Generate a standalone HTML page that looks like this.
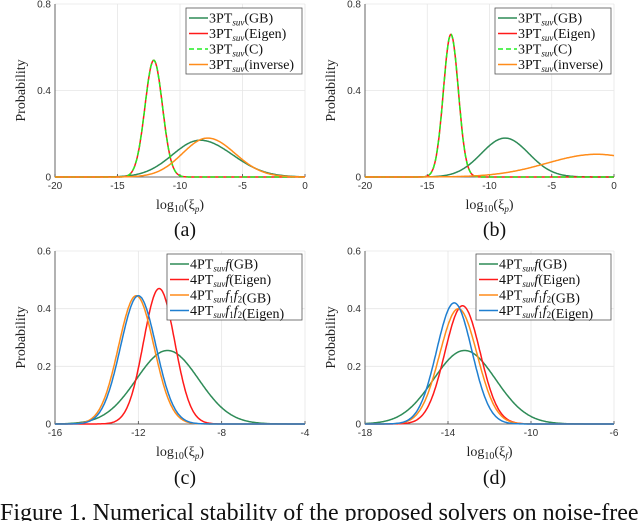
<!DOCTYPE html>
<html><head><meta charset="utf-8">
<style>
body{margin:0;background:#fff;width:640px;height:521px;overflow:hidden}
svg{display:block}
.tk{font-family:"Liberation Sans",sans-serif;font-size:10px;fill:#333}
.lb{font-family:"Liberation Serif",serif;font-size:14px;fill:#222}
.lg{font-family:"Liberation Serif",serif;font-size:14px;fill:#111}
.cap{font-family:"Liberation Serif",serif;font-size:20px;fill:#111}
.fcap{font-family:"Liberation Serif",serif;font-size:24px;fill:#111}
</style></head><body>
<svg id="fig" width="640" height="521"></svg>
<script>
// Panel data: curve params [mean, peak, sigmaLeft, sigmaRight]
const panelNames=["a","b","c","d"];
const seriesLabelsA=["GB","Eigen","C","inverse"];
const meansA=[-8.4,-12.1,-12.1,-7.8];
const peaksA=[0.17,0.54,0.54,0.18];
const sigLA=[2.2,0.7,0.7,2.0];
const sigRA=[2.6,0.7,0.7,2.2];
const meansB=[-8.75,-13.1,-13.1,-1.4];
const peaksB=[0.18,0.66,0.66,0.105];
const sigLB=[1.9,0.6,0.6,4.0];
const sigRB=[1.9,0.6,0.6,4.0];
const seriesLabelsC=["f(GB)","f(Eigen)","f1f2(GB)","f1f2(Eigen)"];
const meansC=[-10.6,-11.0,-12.1,-12.0];
const peaksC=[0.255,0.47,0.445,0.445];
const sigLC=[1.5,0.75,0.85,0.85];
const sigRC=[1.5,0.75,0.85,0.85];
const meansD=[-13.2,-13.3,-13.5,-13.7];
const peaksD=[0.255,0.41,0.40,0.42];
const sigLD=[1.5,0.85,0.9,0.85];
const sigRD=[1.5,0.85,0.9,0.85];
const xTicksAB=[-20,-15,-10,-5,0];
const xTicksC=[-16,-12,-8,-4];
const xTicksD=[-18,-14,-10,-6];
const yTicksAB=[0,0.4,0.8];
const yTicksCD=[0,0.2,0.4,0.6];

const NS="http://www.w3.org/2000/svg";
const svg=document.getElementById('fig');
function el(t,a,p){const e=document.createElementNS(NS,t);for(const k in a)e.setAttribute(k,a[k]);(p||svg).appendChild(e);return e;}

const cols3=["#2e8b57","#ff1a1a","#22ee22","#ff8c1a"];
const cols4=["#2e8b57","#ff1a1a","#ff8c1a","#1f7fd0"];

function panel(o){
  const g=el('g',{});
  
  
  const xs=v=>o.x0+(v-o.xmin)/(o.xmax-o.xmin)*(o.x1-o.x0);
  const ys=v=>o.y0-(v-o.ymin)/(o.ymax-o.ymin)*(o.y0-o.y1);
  o.xt.forEach(t=>{el('line',{x1:xs(t),x2:xs(t),y1:o.y1,y2:o.y0,stroke:'#e6e6e6','stroke-width':0.8},g);});
  o.yt.forEach(t=>{el('line',{x1:o.x0,x2:o.x1,y1:ys(t),y2:ys(t),stroke:'#e6e6e6','stroke-width':0.8},g);});
  const ax=el('path',{d:`M${o.x0},${o.y1}V${o.y0}H${o.x1}`,fill:'none',stroke:'#444','stroke-width':0.8},g);
  
  o.xt.forEach(t=>{const e=el('text',{x:xs(t),y:o.y0+12,'text-anchor':'middle',class:'tk'},g);e.textContent=t;
    
    el('line',{x1:xs(t),x2:xs(t),y1:o.y0,y2:o.y0-3,stroke:'#444','stroke-width':0.8},g);});
  o.yt.forEach(t=>{const e=el('text',{x:o.x0-4,y:ys(t)+3.5,'text-anchor':'end',class:'tk'},g);e.textContent=t;
    });
  const yl=el('text',{x:0,y:0,transform:`translate(${o.x0-30},${(o.y0+o.y1)/2}) rotate(-90)`,'text-anchor':'middle',class:'lb'},g);
  yl.textContent='Probability';
  const xl=el('text',{x:(o.x0+o.x1)/2,y:o.y0+32,'text-anchor':'middle',class:'lb'},g);
  xl.innerHTML='log<tspan font-size="10" dy="3">10</tspan><tspan dy="-3">(ξ</tspan><tspan font-size="9" font-style="italic" dy="3">'+o.sub+'</tspan><tspan dy="-3">)</tspan>';
  
  o.means.forEach((m,i)=>{
    let d='';
    for(let k=0;k<=300;k++){const v=o.xmin+(o.xmax-o.xmin)*k/300;const s=v<m?o.sl[i]:o.sr[i];
      const p=o.peaks[i]*Math.exp(-((v-m)*(v-m))/(2*s*s));d+=(k?'L':'M')+xs(v).toFixed(1)+','+ys(p).toFixed(1);}
    const c=el('path',{d:d,fill:'none',stroke:o.cols[i],'stroke-width':1.5,'stroke-dasharray':o.dash[i]||'none'},g);
    
    
  });
  const lg=el('g',{},g);
  el('rect',{x:o.lx,y:o.ly,width:o.lw,height:66,fill:'#fff',stroke:'#555','stroke-width':0.8},lg);
  o.labels.forEach((l,i)=>{const yy=o.ly+10+i*15.5;
    el('line',{x1:o.lx+3,x2:o.lx+22,y1:yy,y2:yy,stroke:o.cols[i],'stroke-width':1.5,'stroke-dasharray':o.dash[i]||'none'},lg);
    const t=el('text',{x:o.lx+23,y:yy+4.5,class:'lg'},lg);t.innerHTML=o.fmt(l);
    });
  const cp=el('text',{x:(o.x0+o.x1)/2+5,y:o.capY,'text-anchor':'middle',class:'cap'},g);cp.textContent='('+o.id+')';
  
}
const f3=l=>'3PT<tspan font-size="9" font-style="italic" dy="3">suv</tspan><tspan dy="-3">('+l+')</tspan>';
const f4=l=>{const m=l.match(/^(f1f2|f)\((.*)\)$/);
  const ff=m[1]=='f'?'<tspan font-style="italic">f</tspan>':'<tspan font-style="italic">f</tspan><tspan font-size="9" dy="3">1</tspan><tspan font-style="italic" dy="-3">f</tspan><tspan font-size="9" dy="3">2</tspan><tspan dy="-3"></tspan>';
  return '4PT<tspan font-size="9" font-style="italic" dy="3">suv</tspan><tspan dy="-3">'+ff+'</tspan>('+m[2]+')';};
panel({id:'a',x0:55,x1:305,y0:177,y1:4,xmin:-20,xmax:0,ymin:0,ymax:0.8,xt:xTicksAB,yt:yTicksAB,means:meansA,peaks:peaksA,sl:sigLA,sr:sigRA,cols:cols3,dash:[null,null,'5,3',null],labels:seriesLabelsA,fmt:f3,lx:186,ly:8,lw:116,sub:'p',capY:236});
panel({id:'b',x0:365,x1:614,y0:177,y1:4,xmin:-20,xmax:0,ymin:0,ymax:0.8,xt:xTicksAB,yt:yTicksAB,means:meansB,peaks:peaksB,sl:sigLB,sr:sigRB,cols:cols3,dash:[null,null,'5,3',null],labels:seriesLabelsA,fmt:f3,lx:495,ly:8,lw:116,sub:'p',capY:236});
panel({id:'c',x0:55,x1:305,y0:424,y1:251,xmin:-16,xmax:-4,ymin:0,ymax:0.6,xt:xTicksC,yt:yTicksCD,means:meansC,peaks:peaksC,sl:sigLC,sr:sigRC,cols:cols4,dash:[],labels:seriesLabelsC,fmt:f4,lx:167,ly:254,lw:135,sub:'p',capY:484});
panel({id:'d',x0:365,x1:614,y0:424,y1:251,xmin:-18,xmax:-6,ymin:0,ymax:0.6,xt:xTicksD,yt:yTicksCD,means:meansD,peaks:peaksD,sl:sigLD,sr:sigRD,cols:cols4,dash:[],labels:seriesLabelsC,fmt:f4,lx:476,ly:254,lw:135,sub:'f',capY:484});
const fc=el('text',{x:0,y:520,class:'fcap'});fc.textContent='Figure 1. Numerical stability of the proposed solvers on noise-free';

</script>
</body></html>
